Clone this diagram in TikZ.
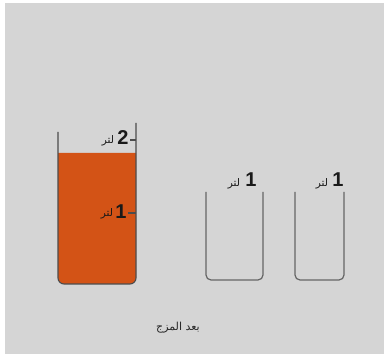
\documentclass[tikz,border=0pt]{standalone}
\usepackage{fontspec}
\setmainfont{Liberation Sans}
\newfontfamily\arabicfont[Script=Arabic]{DejaVu Sans}
\TeXXeTstate=1
\begin{document}
\begin{tikzpicture}[x=1pt,y=1pt,
  wall/.style={draw=black!70,line width=1.1pt},
  thinwall/.style={draw=black!60,line width=1.2pt},
  digit/.style={inner sep=0pt,font=\fontsize{20}{20}\selectfont\bfseries,text=black!90},
  unit/.style={inner sep=0pt,font=\fontsize{10.5}{11}\selectfont\arabicfont,text=black!90},
  caption/.style={inner sep=0pt,font=\fontsize{11}{12}\selectfont\arabicfont,text=black!85}]
\definecolor{liquidc}{HTML}{D35316}
\definecolor{bgc}{HTML}{D5D5D5}
\useasboundingbox (0,0) rectangle (384,354);
\fill[white] (0,0) rectangle (384,354);
\fill[bgc] (5,0) rectangle (384,351);
% big beaker liquid
\fill[liquidc] (58,201) -- (58,76) arc[start angle=180,end angle=270,radius=6] -- (130,70) arc[start angle=270,end angle=360,radius=6] -- (136,201) -- cycle;
% big beaker outline
\draw[wall] (58,222) -- (58,76) arc[start angle=180,end angle=270,radius=6] -- (130,70) arc[start angle=270,end angle=360,radius=6] -- (136,231);
\draw[wall] (130,214) -- (136,214);
\draw[wall] (128,141) -- (136,141);
\node[digit] (two) at (123,216) {2};
\node[unit] (u2) at (108,213) {\beginR لتر\endR};
\node[digit] (oneA) at (121,142) {1};
\node[unit] (u1) at (107,140) {\beginR لتر\endR};
% small beakers
\draw[thinwall] (206,162) -- (206,79) arc[start angle=180,end angle=270,radius=5] -- (258,74) arc[start angle=270,end angle=360,radius=5] -- (263,162);
\draw[thinwall] (295,162) -- (295,79) arc[start angle=180,end angle=270,radius=5] -- (339,74) arc[start angle=270,end angle=360,radius=5] -- (344,162);
\node[digit] (oneB) at (251,174) {1};
\node[unit] (uB) at (234,170) {\beginR لتر\endR};
\node[digit] (oneC) at (338,174) {1};
\node[unit] (uC) at (322,170) {\beginR لتر\endR};
\node[caption] (cap) at (178,26) {\beginR بعد المزج\endR};
\end{tikzpicture}
\end{document}
